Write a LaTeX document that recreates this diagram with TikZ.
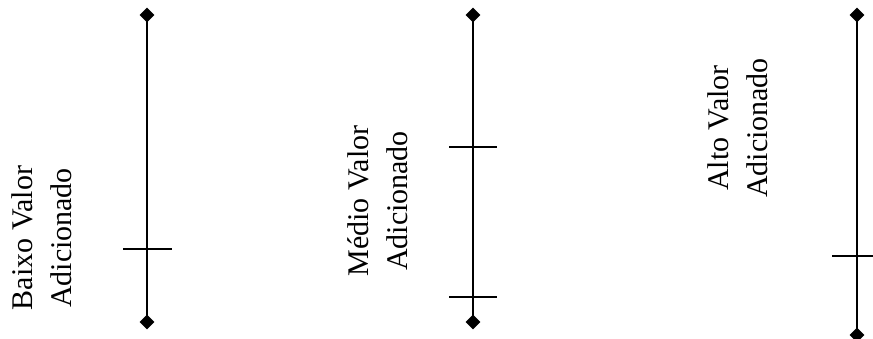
\documentclass[tikz,border=0pt]{standalone}
\usepackage{fontspec}
\setmainfont{Liberation Serif}
\usetikzlibrary{shapes.geometric}
\begin{document}
\begin{tikzpicture}[x=1pt,y=-1pt,
  endpt/.style={diamond,fill=black,draw=none,inner sep=0pt,minimum width=15pt,minimum height=15pt},
  axisline/.style={line width=2.4pt,black},
  tickline/.style={line width=1.2pt,black},
  lbl/.style={rotate=90,align=center,inner sep=0pt,font=\fontsize{30}{39}\selectfont}]
\useasboundingbox (0,0) rectangle (873,339);
% left
\node[endpt] (lt) at (147,15) {};
\node[endpt] (lb) at (147,322) {};
\draw[axisline] (lt.center) -- (lb.center);
\coordinate (lk1a) at (123,249);
\coordinate (lk1b) at (172,249);
\draw[tickline] (lk1a) -- (lk1b);
\node[lbl] (ll) at (42,238) {Baixo Valor\\Adicionado};
% middle
\node[endpt] (mt) at (473,15) {};
\node[endpt] (mb) at (473,322) {};
\draw[axisline] (mt.center) -- (mb.center);
\coordinate (mk1a) at (449,147);
\coordinate (mk1b) at (497,147);
\draw[tickline] (mk1a) -- (mk1b);
\coordinate (mk2a) at (449,297);
\coordinate (mk2b) at (497,297);
\draw[tickline] (mk2a) -- (mk2b);
\node[lbl] (ml) at (377.5,201) {Médio Valor\\Adicionado};
% right
\node[endpt] (rt) at (857,15) {};
\node[endpt] (rb) at (857,335) {};
\draw[axisline] (rt.center) -- (rb.center);
\coordinate (rk1a) at (832,256);
\coordinate (rk1b) at (873,256);
\draw[tickline] (rk1a) -- (rk1b);
\node[lbl] (rl) at (737.5,128) {Alto Valor\\Adicionado};
\end{tikzpicture}
\end{document}
